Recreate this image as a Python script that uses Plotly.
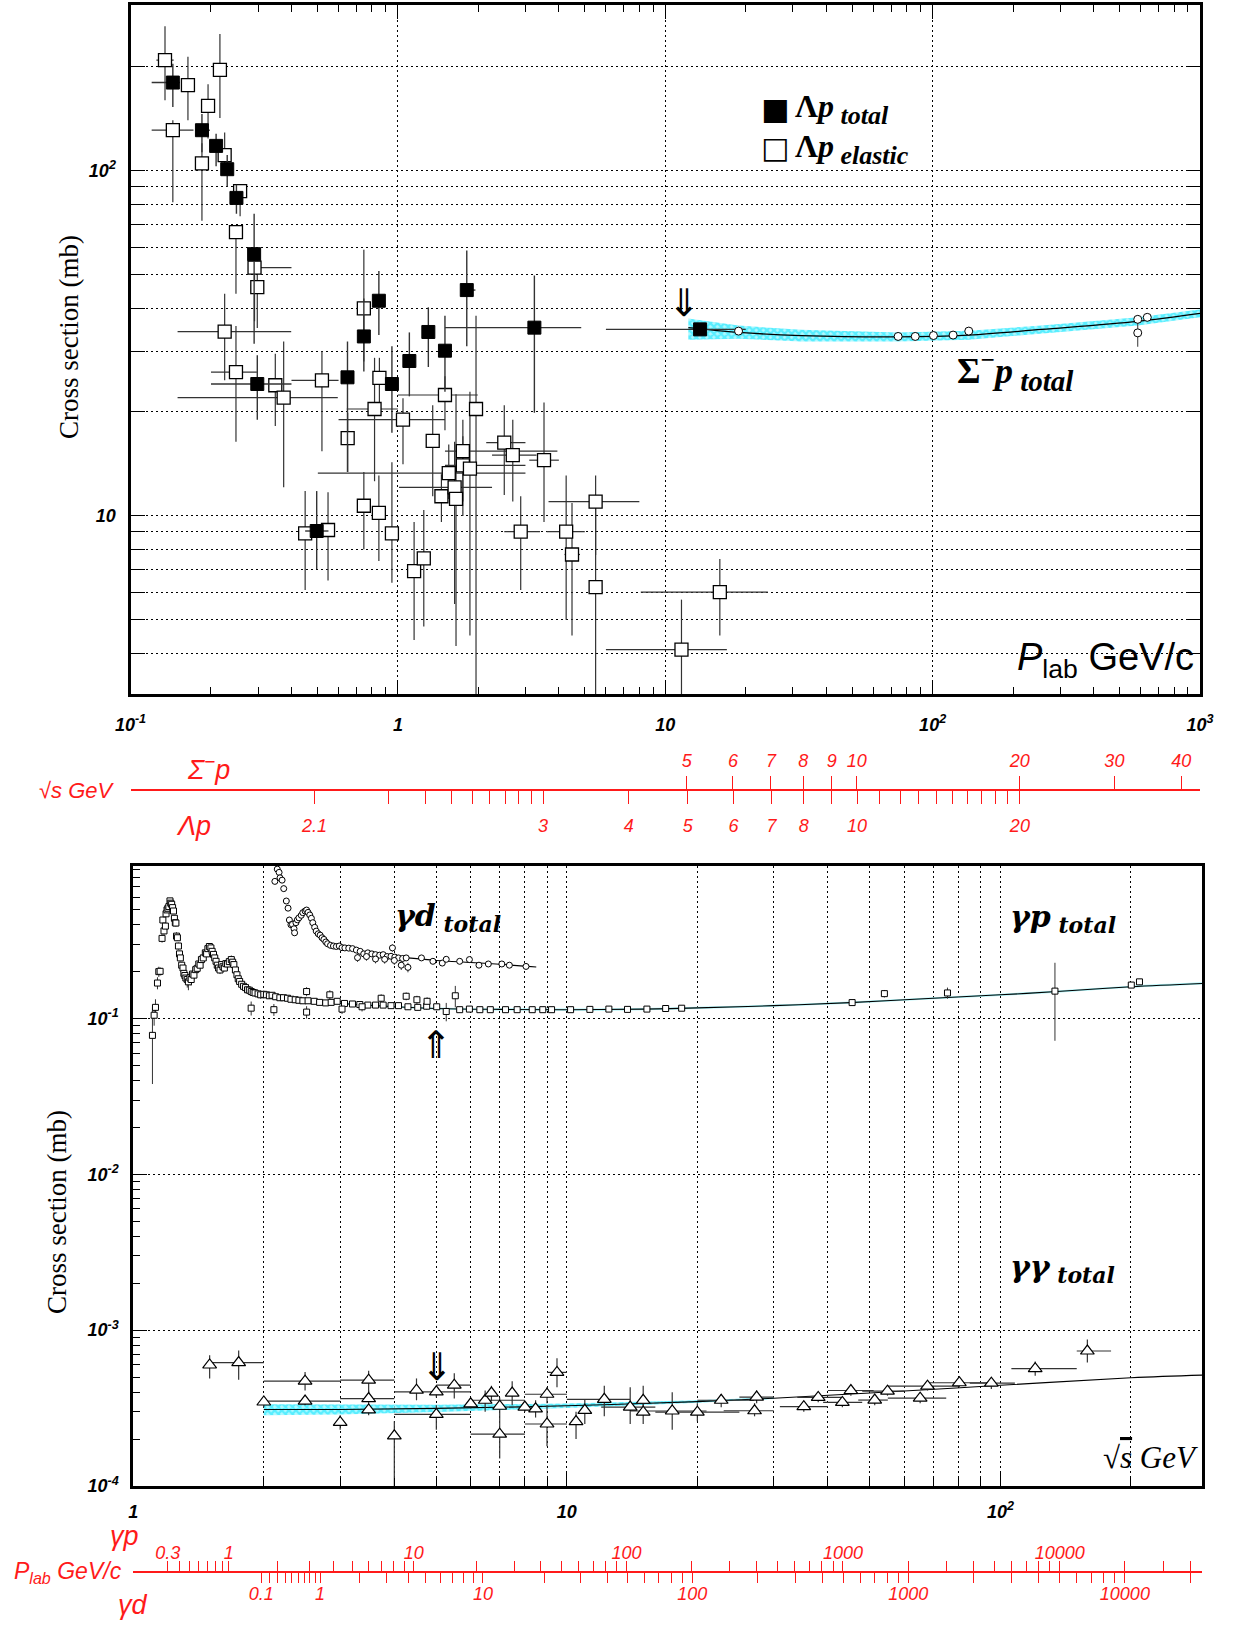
import math
import plotly.graph_objects as go

FIG_W, FIG_H = 1233, 1625

# ================= TOP PANEL: Lambda p / Sigma- p  (x: Plab GeV/c, y: mb) =================
lp_tot_p      = [0.144, 0.185, 0.209, 0.230, 0.249, 0.290, 0.298, 0.497, 0.648, 0.746, 0.849, 0.950, 1.104, 1.300, 1.500, 1.810, 3.240, 13.50]
lp_tot_p_lo   = [0.120, 0.175, 0.200, 0.222, 0.242, 0.282, 0.200, 0.450, 0.640, 0.735, 0.840, 0.940, 1.090, 1.280, 1.480, 1.720, 1.500, 6.000]
lp_tot_p_hi   = [0.153, 0.198, 0.218, 0.240, 0.256, 0.300, 0.400, 0.550, 0.660, 0.757, 0.860, 0.960, 1.120, 1.320, 1.520, 1.950, 4.850, 20.00]
lp_tot_sig    = [180, 131, 118, 101, 83.4, 57.3, 24.1, 9.04, 25.2, 33.1, 42.0, 24.1, 28.1, 34.1, 30.1, 45.1, 35.1, 34.7]
lp_tot_sig_lo = [153, 113, 103, 90, 75, 31.5, 19.0, 7.0, 13.4, 26.2, 33.4, 17.4, 22.2, 27.0, 22.9, 31.0, 19.9, 33.5]
lp_tot_sig_hi = [204, 146, 128, 111, 91, 75, 29.2, 11.8, 32.0, 42.6, 51.2, 31.0, 34.0, 40.2, 38.0, 58.7, 49.7, 36.0]

lp_el_p = [0.1346, 0.164, 0.216, 0.195, 0.144, 0.185, 0.225, 0.257, 0.248, 0.291,
           0.298, 0.225, 0.248, 0.348, 0.374, 0.450, 0.548, 0.520, 0.649, 0.746,
           0.818, 0.853, 0.746, 0.849, 0.950, 1.045, 1.150, 1.250, 1.350, 1.500,
           1.455, 1.550, 1.630, 1.650, 1.750, 1.750, 1.860, 1.960, 2.500, 2.690,
           3.520, 2.880, 4.260, 4.480, 5.490, 5.490, 16.00, 11.50]
lp_el_p_lo = [0.125, 0.158, 0.212, 0.188, 0.120, 0.180, 0.218, 0.250, 0.243, 0.283,
              0.290, 0.150, 0.200, 0.335, 0.150, 0.430, 0.520, 0.400, 0.630, 0.730,
              0.644, 0.835, 0.730, 0.830, 0.930, 0.600, 1.130, 1.230, 1.330, 1.000,
              1.430, 0.502, 1.010, 1.620, 1.500, 1.500, 1.830, 1.920, 2.140, 2.250,
              3.100, 2.500, 3.600, 4.200, 3.660, 5.350, 8.100, 6.000]
lp_el_p_hi = [0.145, 0.172, 0.220, 0.202, 0.172, 0.190, 0.232, 0.263, 0.253, 0.400,
              0.310, 0.399, 0.297, 0.362, 0.596, 0.470, 0.580, 0.600, 0.670, 0.760,
              1.000, 0.870, 0.760, 0.870, 0.970, 1.500, 1.170, 1.270, 1.370, 1.990,
              1.480, 3.000, 2.250, 1.680, 3.950, 3.000, 1.890, 2.000, 3.000, 3.300,
              4.000, 3.400, 5.000, 4.800, 8.000, 5.600, 24.20, 17.00]
lp_el_sig = [209, 177, 196, 154, 131, 105, 111, 87.2, 66.4, 52.4,
             46.0, 34.2, 26.1, 23.9, 22.0, 8.9, 9.1, 24.7, 16.8, 39.9,
             20.4, 25.1, 10.7, 10.2, 8.9, 19.0, 6.92, 7.53, 16.5, 22.4,
             11.4, 13.3, 12.1, 11.2, 15.4, 14.0, 13.7, 20.4, 16.3, 15.0,
             14.5, 9.0, 9.0, 7.73, 11.0, 6.22, 6.01, 4.1]
lp_el_sig_lo = [160, 140, 142, 124, 81, 71.6, 97, 73.8, 44, 36.6,
                35, 24.7, 16.4, 18.2, 12.1, 6.1, 6.5, 15.4, 13.4, 28,
                12.6, 19.9, 8.0, 7.4, 6.4, 14.1, 4.37, 4.78, 11.4, 17.7,
                9.6, 11.2, 5.56, 4.2, 11, 10, 4.5, 3.0, 11.5, 11.0,
                9.6, 6.1, 5.0, 4.5, 7.7, 3.0, 4.5, 3.0]
lp_el_sig_hi = [262, 214, 249, 178, 140, 120, 129, 91, 69, 59.5,
                58, 44, 35.5, 29.5, 32, 11.8, 11.7, 30, 19.9, 59,
                28.7, 28.7, 13.4, 13.1, 14.3, 21.9, 9.6, 10.4, 20.9, 25.4,
                13.2, 16.1, 16.4, 22.5, 19, 17, 22.9, 38, 20.9, 19,
                21.3, 11.4, 13.1, 10.9, 13.1, 11.4, 7.5, 5.72]

sp_p       = [18.8, 74.3, 86.1, 100.7, 119.3, 136.5, 585, 585, 635]
sp_sig     = [34.3, 33.1, 33.1, 33.3, 33.4, 34.3, 37.1, 33.9, 37.6]
sp_sig_err = [0.5, 0.4, 0.4, 0.4, 0.4, 0.4, 0.6, 3.0, 0.6]

sp_fit_p       = [12.2, 18.8, 32.2, 74.3, 136.5, 256, 585, 1000]
sp_fit_sig     = [35.1, 34.0, 33.3, 33.0, 33.4, 34.7, 36.6, 38.6]
sp_band_sig_lo = [32.4, 32.6, 32.0, 32.0, 32.4, 33.8, 35.6, 37.6]
sp_band_sig_hi = [37.3, 35.6, 34.6, 34.0, 34.4, 35.6, 37.6, 39.6]

# ================= BOTTOM PANEL: gamma p / gamma d / gamma gamma (x: sqrt(s) GeV, y: mb) =================
gp_w = [1.107, 1.117, 1.125, 1.137, 1.145, 1.153, 1.165, 1.170, 1.177, 1.186,
        1.190, 1.196, 1.202, 1.208, 1.215, 1.220, 1.226, 1.232, 1.238, 1.244,
        1.250, 1.254, 1.258, 1.264, 1.271, 1.278, 1.284, 1.293, 1.302, 1.308,
        1.315, 1.322, 1.332, 1.340, 1.351, 1.360, 1.370, 1.380, 1.393, 1.404,
        1.416, 1.426, 1.436, 1.450, 1.466, 1.476, 1.486, 1.498, 1.510, 1.520,
        1.531, 1.541, 1.552, 1.562, 1.573, 1.585, 1.599, 1.610, 1.622, 1.635,
        1.649, 1.665, 1.683, 1.695, 1.706, 1.720, 1.734, 1.746, 1.759, 1.778,
        1.796, 1.815, 1.834, 1.852, 1.871, 1.890, 1.909, 1.940, 1.967, 2.000,
        2.028, 2.060, 2.090, 2.130, 2.178, 2.220, 2.268, 2.310, 2.363, 2.410,
        2.461, 2.530, 2.614, 2.690, 2.778, 2.860, 2.953, 3.070, 3.203, 3.330,
        3.475, 3.620, 3.770, 3.930, 4.090, 4.300, 4.530, 4.750, 5.010, 5.270,
        5.530, 5.660, 5.960, 6.300, 6.660, 7.220, 7.680, 8.320, 8.800, 9.220,
        10.20, 11.30, 12.50, 13.80, 15.30, 16.90, 18.40, 45.5, 54.0, 75.5,
        133.6, 200.4, 209.3, 1.870, 2.110, 2.510, 2.510, 2.840, 3.030, 3.370,
        3.730, 4.260, 4.510, 4.760]
gp_sig = [0.078, 0.105, 0.118, 0.169, 0.200, 0.201, 0.327, 0.429, 0.365, 0.392,
          0.470, 0.498, 0.510, 0.523, 0.569, 0.550, 0.541, 0.515, 0.490, 0.440,
          0.412, 0.410, 0.338, 0.330, 0.292, 0.260, 0.245, 0.220, 0.211, 0.195,
          0.189, 0.182, 0.178, 0.172, 0.182, 0.178, 0.193, 0.190, 0.206, 0.210,
          0.224, 0.220, 0.239, 0.245, 0.264, 0.260, 0.281, 0.290, 0.284, 0.270,
          0.258, 0.245, 0.233, 0.220, 0.211, 0.205, 0.222, 0.215, 0.211, 0.225,
          0.224, 0.232, 0.239, 0.230, 0.222, 0.205, 0.191, 0.180, 0.173, 0.166,
          0.161, 0.158, 0.153, 0.152, 0.149, 0.147, 0.146, 0.144, 0.142, 0.143,
          0.142, 0.140, 0.141, 0.138, 0.136, 0.136, 0.135, 0.133, 0.132, 0.131,
          0.130, 0.130, 0.129, 0.127, 0.126, 0.127, 0.129, 0.125, 0.124, 0.123,
          0.122, 0.122, 0.122, 0.121, 0.121, 0.119, 0.118, 0.120, 0.119, 0.111,
          0.140, 0.114, 0.115, 0.114, 0.114, 0.114, 0.114, 0.114, 0.114, 0.114,
          0.114, 0.1145, 0.115, 0.1145, 0.115, 0.116, 0.1165, 0.1266, 0.1445, 0.146,
          0.150, 0.164, 0.172, 0.1166, 0.114, 0.110, 0.149, 0.142, 0.115, 0.119,
          0.135, 0.139, 0.132, 0.129]
gp_err = [0.040, 0.015, 0.015, 0.015, 0.015, 0.012, 0.020, 0.020, 0.020, 0.020,
          0.020, 0.020, 0.020, 0.020, 0.020, 0.020, 0.020, 0.020, 0.020, 0.020,
          0.020, 0.020, 0.020, 0.015, 0.015, 0.012, 0.012, 0.010, 0.010, 0.010,
          0.010, 0.012, 0.020, 0.020, 0.015, 0.015, 0.012, 0.012, 0.010, 0.010,
          0.010, 0.010, 0.010, 0.010, 0.010, 0.010, 0.010, 0.010, 0.010, 0.010,
          0.010, 0.010, 0.010, 0.012, 0.015, 0.012, 0.012, 0.015, 0.010, 0.012,
          0.012, 0.012, 0.015, 0.012, 0.012, 0.012, 0.010, 0.010, 0.010, 0.010,
          0.008, 0.008, 0.008, 0.008, 0.008, 0.008, 0.008, 0.008, 0.008, 0.008,
          0.006, 0.006, 0.006, 0.006, 0.006, 0.006, 0.006, 0.006, 0.006, 0.006,
          0.005, 0.005, 0.005, 0.005, 0.005, 0.005, 0.005, 0.005, 0.005, 0.005,
          0.005, 0.005, 0.005, 0.005, 0.005, 0.005, 0.005, 0.006, 0.006, 0.015,
          0.022, 0.003, 0.003, 0.003, 0.003, 0.003, 0.003, 0.003, 0.003, 0.003,
          0.003, 0.003, 0.003, 0.003, 0.003, 0.003, 0.003, 0.005, 0.008, 0.012,
          0.078, 0.007, 0.007, 0.012, 0.010, 0.010, 0.010, 0.010, 0.008, 0.008,
          0.008, 0.008, 0.008, 0.008]

gp_fit_w   = [2.1, 3, 4, 5, 7, 10, 15, 20, 30, 45, 70, 100, 135, 200, 292]
gp_fit_sig = [0.134, 0.125, 0.119, 0.116, 0.1145, 0.114, 0.115, 0.117, 0.121, 0.1266, 0.135, 0.142, 0.149, 0.160, 0.168]

gd_w = [2.121, 2.148, 2.169, 2.180, 2.204, 2.223, 2.254, 2.275, 2.291, 2.310,
        2.328, 2.348, 2.355, 2.372, 2.390, 2.410, 2.440, 2.460, 2.490, 2.510,
        2.530, 2.553, 2.575, 2.594, 2.620, 2.642, 2.670, 2.697, 2.725, 2.752,
        2.780, 2.806, 2.850, 2.895, 2.940, 2.985, 3.030, 3.076, 3.140, 3.204,
        3.270, 3.337, 3.400, 3.475, 3.550, 3.620, 3.700, 3.770, 3.850, 3.930,
        4.010, 4.090, 4.180, 4.260, 3.290, 3.450, 3.620, 3.800, 4.000, 4.150,
        4.300, 3.960, 4.620, 4.910, 5.160, 5.270, 5.660, 5.960, 6.270, 6.590,
        7.080, 7.370, 8.050]
gd_sig = [0.759, 0.910, 0.867, 0.800, 0.773, 0.682, 0.568, 0.511, 0.429, 0.400,
          0.402, 0.377, 0.355, 0.412, 0.430, 0.443, 0.460, 0.478, 0.490, 0.497,
          0.480, 0.462, 0.440, 0.412, 0.385, 0.364, 0.350, 0.343, 0.330, 0.322,
          0.310, 0.302, 0.295, 0.292, 0.290, 0.292, 0.285, 0.284, 0.283, 0.281,
          0.275, 0.270, 0.260, 0.264, 0.260, 0.257, 0.255, 0.257, 0.250, 0.251,
          0.248, 0.245, 0.243, 0.245, 0.246, 0.250, 0.241, 0.240, 0.236, 0.220,
          0.213, 0.284, 0.245, 0.233, 0.227, 0.240, 0.233, 0.239, 0.220, 0.224,
          0.224, 0.220, 0.216]
gd_err = [0.030, 0.040, 0.040, 0.030, 0.030, 0.030, 0.020, 0.020, 0.020, 0.015,
          0.015, 0.015, 0.015, 0.015, 0.015, 0.015, 0.015, 0.015, 0.015, 0.015,
          0.015, 0.015, 0.015, 0.015, 0.012, 0.012, 0.012, 0.012, 0.012, 0.012,
          0.010, 0.010, 0.010, 0.010, 0.010, 0.010, 0.010, 0.010, 0.010, 0.010,
          0.010, 0.010, 0.010, 0.010, 0.010, 0.010, 0.010, 0.010, 0.010, 0.010,
          0.010, 0.010, 0.010, 0.010, 0.015, 0.015, 0.015, 0.015, 0.015, 0.015,
          0.015, 0.015, 0.008, 0.008, 0.008, 0.008, 0.008, 0.008, 0.008, 0.008,
          0.008, 0.008, 0.008]
gd_fit_w   = [4.3, 5.0, 6.0, 7.0, 8.5]
gd_fit_sig = [0.245, 0.236, 0.229, 0.223, 0.214]

gg_w    = [1.50, 1.75, 2.00, 2.49, 2.49, 3.00, 3.49, 3.49, 3.49, 4.00,
           4.50, 5.00, 5.00, 5.50, 6.00, 6.48, 6.70, 7.00, 7.00, 7.48,
           8.00, 8.47, 9.00, 9.00, 9.49, 10.5, 11.0, 12.2, 14.0, 15.0,
           15.0, 17.5, 20.0, 22.7, 27.1, 27.4, 35.2, 38.0, 43.2, 45.2,
           51.3, 54.9, 65.3, 67.9, 80.4, 95.3, 120.3, 158.7]
gg_w_lo = [1.50, 1.50, 2.00, 2.00, 2.00, 3.00, 3.00, 3.00, 3.49, 4.00,
           4.50, 4.00, 4.00, 5.00, 6.00, 6.00, 6.70, 6.00, 7.00, 7.48,
           8.00, 8.47, 8.00, 8.00, 9.00, 10.5, 11.0, 10.0, 12.0, 15.0,
           15.0, 14.0, 16.0, 20.0, 23.0, 25.0, 31.0, 34.0, 39.0, 40.0,
           47.0, 48.0, 55.0, 55.0, 67.0, 85.0, 106.0, 150.0]
gg_w_hi = [1.50, 2.00, 2.00, 3.00, 3.00, 3.00, 4.00, 4.00, 3.49, 4.00,
           4.50, 6.00, 6.00, 6.00, 6.00, 8.00, 6.70, 8.00, 7.00, 7.48,
           8.00, 8.47, 10.0, 10.0, 10.0, 10.5, 11.0, 14.0, 16.0, 15.0,
           15.0, 21.0, 25.0, 27.0, 30.0, 30.0, 40.0, 43.0, 48.0, 51.0,
           55.0, 60.0, 75.0, 80.0, 95.0, 108.0, 150.0, 180.0]
gg_sig    = [5.98e-4, 6.2e-4, 3.46e-4, 4.71e-4, 3.51e-4, 2.56e-4, 4.78e-4, 3.64e-4, 3.08e-4, 2.1e-4,
             4.12e-4, 4.02e-4, 2.88e-4, 4.44e-4, 3.37e-4, 3.55e-4, 3.95e-4, 2.15e-4, 3.25e-4, 3.95e-4,
             3.21e-4, 3.13e-4, 3.88e-4, 2.5e-4, 5.36e-4, 2.59e-4, 3.06e-4, 3.6e-4, 3.21e-4, 3.55e-4,
             2.98e-4, 3.03e-4, 2.98e-4, 3.55e-4, 3.04e-4, 3.72e-4, 3.23e-4, 3.7e-4, 3.44e-4, 4.1e-4,
             3.56e-4, 4.06e-4, 3.66e-4, 4.37e-4, 4.6e-4, 4.57e-4, 5.66e-4, 7.35e-4]
gg_sig_lo = [4.9e-4, 4.8e-4, 3.2e-4, 4.1e-4, 3.3e-4, 2.3e-4, 3.9e-4, 3.2e-4, 2.85e-4, 1.0e-4,
             3.55e-4, 3.7e-4, 2.3e-4, 3.65e-4, 3.15e-4, 3.0e-4, 3.5e-4, 1.5e-4, 2.9e-4, 3.3e-4,
             3.0e-4, 2.75e-4, 3.4e-4, 1.8e-4, 4.3e-4, 2.0e-4, 2.5e-4, 2.8e-4, 2.5e-4, 2.9e-4,
             2.5e-4, 2.3e-4, 2.6e-4, 3.2e-4, 2.8e-4, 3.4e-4, 3.0e-4, 3.45e-4, 3.2e-4, 3.8e-4,
             3.3e-4, 3.8e-4, 3.4e-4, 4.1e-4, 4.3e-4, 4.2e-4, 5.1e-4, 6.2e-4]
gg_sig_hi = [6.9e-4, 7.4e-4, 3.7e-4, 5.4e-4, 3.8e-4, 2.85e-4, 5.5e-4, 4.1e-4, 3.35e-4, 2.6e-4,
             4.9e-4, 4.4e-4, 3.3e-4, 5.3e-4, 3.6e-4, 4.1e-4, 4.4e-4, 2.9e-4, 3.7e-4, 4.7e-4,
             3.45e-4, 3.55e-4, 4.3e-4, 3.3e-4, 6.6e-4, 3.0e-4, 3.6e-4, 4.4e-4, 4.3e-4, 4.4e-4,
             3.5e-4, 4.0e-4, 3.4e-4, 3.9e-4, 3.4e-4, 4.1e-4, 3.5e-4, 3.95e-4, 3.7e-4, 4.4e-4,
             3.8e-4, 4.3e-4, 3.9e-4, 4.7e-4, 4.9e-4, 4.9e-4, 6.3e-4, 8.7e-4]

gg_fit_w   = [2, 3, 5, 10, 20, 30, 50, 100, 200, 292]
gg_fit_sig = [3.1e-4, 3.1e-4, 3.15e-4, 3.27e-4, 3.48e-4, 3.66e-4, 3.95e-4, 4.43e-4, 4.95e-4, 5.15e-4]
gg_band_w      = [2, 3, 5, 10, 20, 30]
gg_band_sig_lo = [2.85e-4, 2.88e-4, 2.98e-4, 3.17e-4, 3.42e-4, 3.62e-4]
gg_band_sig_hi = [3.35e-4, 3.33e-4, 3.32e-4, 3.38e-4, 3.55e-4, 3.70e-4]

# ================= secondary (red) energy scales =================
M_P, M_SIGMA, M_LAMBDA, M_D = 0.938272, 1.197449, 1.115683, 1.875613
sigp_sqrts_ticks  = [5, 6, 7, 8, 9, 10, 20, 30, 40]
sigp_sqrts_labels = ['5', '6', '7', '8', '9', '10', '20', '30', '40']
lamp_sqrts_ticks  = [2.1, 2.2, 2.3, 2.4, 2.5, 2.6, 2.7, 2.8, 2.9, 3, 4, 5, 6, 7, 8, 9, 10,
                     11, 12, 13, 14, 15, 16, 17, 18, 19, 20]
lamp_sqrts_labels = ['2.1', '', '', '', '', '', '', '', '', '3', '4', '5', '6', '7', '8', '', '10',
                     '', '', '', '', '', '', '', '', '', '20']
gp_plab_ticks = [0.3, 0.4, 0.5, 0.6, 0.7, 0.8, 0.9,
                 1, 2, 3, 4, 5, 6, 7, 8, 9,
                 10, 20, 30, 40, 50, 60, 70, 80, 90,
                 100, 200, 300, 400, 500, 600, 700, 800, 900,
                 1000, 2000, 3000, 4000, 5000, 6000, 7000, 8000, 9000,
                 10000, 20000, 30000, 40000]
gp_plab_labeled = [0.3, 1, 10, 100, 1000, 10000]
gd_plab_ticks = [0.1, 0.2, 0.3, 0.4, 0.5, 0.6, 0.7, 0.8, 0.9,
                 1, 2, 3, 4, 5, 6, 7, 8, 9,
                 10, 20, 30, 40, 50, 60, 70, 80, 90,
                 100, 200, 300, 400, 500, 600, 700, 800, 900,
                 1000, 2000, 3000, 4000, 5000, 6000, 7000, 8000, 9000,
                 10000, 20000]
gd_plab_labeled = [0.1, 1, 10, 100, 1000, 10000]


def plab_from_sqrts(w, mb, mt):
    e = (w * w - mb * mb - mt * mt) / (2 * mt)
    return math.sqrt(e * e - mb * mb)


def sqrts_photon(p, mt):
    return math.sqrt(mt * mt + 2 * mt * p)


def fmt(v):
    return ('%g' % v)


# ---------------- geometry helpers (window pixel -> paper coords) ----------------
def PX(x):
    return x / FIG_W


def PY(y):
    return 1 - y / FIG_H


TOP_X = [PX(130.5), PX(1200)]
TOP_Y = [PY(694), PY(5)]
BOT_X = [PX(133.3), PX(1202)]
BOT_Y = [PY(1486), PY(866)]

fig = go.Figure()
ERRC = '#333333'
CYAN_PATTERN = dict(shape='x', fgcolor='#00e4ff', bgcolor='rgba(150,245,255,0.75)', size=5, solidity=0.7)


def errs(v, lo, hi):
    return [h - a for a, h in zip(v, hi)], [a - l for a, l in zip(v, lo)]


# ---- top panel traces ----
fig.add_trace(go.Scatter(x=sp_fit_p, y=sp_band_sig_lo, mode='lines', line=dict(width=0, color='cyan'),
                         showlegend=False, hoverinfo='skip', xaxis='x', yaxis='y'))
fig.add_trace(go.Scatter(x=sp_fit_p, y=sp_band_sig_hi, mode='lines', line=dict(width=0, color='cyan'),
                         fill='tonexty', fillpattern=CYAN_PATTERN,
                         showlegend=False, hoverinfo='skip', xaxis='x', yaxis='y'))
fig.add_trace(go.Scatter(x=sp_fit_p, y=sp_fit_sig, mode='lines', line=dict(color='black', width=1.3, shape='spline'),
                         showlegend=False, xaxis='x', yaxis='y'))

ep, em = errs(lp_el_sig, lp_el_sig_lo, lp_el_sig_hi)
xp, xm = errs(lp_el_p, lp_el_p_lo, lp_el_p_hi)
fig.add_trace(go.Scatter(x=lp_el_p, y=lp_el_sig, mode='markers', showlegend=False,
                         marker=dict(symbol='square', size=13, color='white', line=dict(color='black', width=1.3)),
                         error_y=dict(type='data', symmetric=False, array=ep, arrayminus=em, width=0, thickness=1.2, color=ERRC),
                         error_x=dict(type='data', symmetric=False, array=xp, arrayminus=xm, width=0, thickness=1.2, color=ERRC),
                         xaxis='x', yaxis='y'))
ep, em = errs(lp_tot_sig, lp_tot_sig_lo, lp_tot_sig_hi)
xp, xm = errs(lp_tot_p, lp_tot_p_lo, lp_tot_p_hi)
fig.add_trace(go.Scatter(x=lp_tot_p, y=lp_tot_sig, mode='markers', showlegend=False,
                         marker=dict(symbol='square', size=13, color='black', line=dict(color='black', width=1)),
                         error_y=dict(type='data', symmetric=False, array=ep, arrayminus=em, width=0, thickness=1.4, color=ERRC),
                         error_x=dict(type='data', symmetric=False, array=xp, arrayminus=xm, width=0, thickness=1.4, color=ERRC),
                         xaxis='x', yaxis='y'))
fig.add_trace(go.Scatter(x=sp_p, y=sp_sig, mode='markers', showlegend=False,
                         marker=dict(symbol='circle', size=8, color='white', line=dict(color='black', width=1)),
                         error_y=dict(type='data', array=sp_sig_err, width=0, thickness=1, color=ERRC),
                         xaxis='x', yaxis='y'))

# ---- bottom panel traces ----
fig.add_trace(go.Scatter(x=gg_band_w, y=gg_band_sig_lo, mode='lines', line=dict(width=0, color='cyan'),
                         showlegend=False, hoverinfo='skip', xaxis='x2', yaxis='y2'))
fig.add_trace(go.Scatter(x=gg_band_w, y=gg_band_sig_hi, mode='lines', line=dict(width=0, color='cyan'),
                         fill='tonexty', fillpattern=CYAN_PATTERN,
                         showlegend=False, hoverinfo='skip', xaxis='x2', yaxis='y2'))
fig.add_trace(go.Scatter(x=gp_fit_w, y=gp_fit_sig, mode='lines', line=dict(color='#a8f4f8', width=2.2, shape='spline'),
                         showlegend=False, hoverinfo='skip', xaxis='x2', yaxis='y2'))
fig.add_trace(go.Scatter(x=gp_fit_w, y=gp_fit_sig, mode='lines', line=dict(color='black', width=1.1, shape='spline'),
                         showlegend=False, xaxis='x2', yaxis='y2'))
fig.add_trace(go.Scatter(x=gg_fit_w, y=gg_fit_sig, mode='lines', line=dict(color='black', width=1.1, shape='spline'),
                         showlegend=False, xaxis='x2', yaxis='y2'))
fig.add_trace(go.Scatter(x=gd_fit_w, y=gd_fit_sig, mode='lines', line=dict(color='black', width=1.1, shape='spline'),
                         showlegend=False, xaxis='x2', yaxis='y2'))
fig.add_trace(go.Scatter(x=gp_w, y=gp_sig, mode='markers', showlegend=False,
                         marker=dict(symbol='square', size=6, color='white', line=dict(color='black', width=1)),
                         error_y=dict(type='data', array=gp_err, width=0, thickness=1, color=ERRC),
                         xaxis='x2', yaxis='y2'))
fig.add_trace(go.Scatter(x=gd_w, y=gd_sig, mode='markers', showlegend=False,
                         marker=dict(symbol='circle', size=6, color='white', line=dict(color='black', width=1)),
                         error_y=dict(type='data', array=gd_err, width=0, thickness=1, color=ERRC),
                         xaxis='x2', yaxis='y2'))
ep, em = errs(gg_sig, gg_sig_lo, gg_sig_hi)
xp, xm = errs(gg_w, gg_w_lo, gg_w_hi)
fig.add_trace(go.Scatter(x=gg_w, y=gg_sig, mode='markers', showlegend=False,
                         marker=dict(symbol='triangle-up', size=12, color='white', line=dict(color='black', width=1.2)),
                         error_y=dict(type='data', symmetric=False, array=ep, arrayminus=em, width=0, thickness=1.2, color=ERRC),
                         error_x=dict(type='data', symmetric=False, array=xp, arrayminus=xm, width=0, thickness=1.2, color=ERRC),
                         xaxis='x2', yaxis='y2'))

# invisible anchor traces for the red energy scales
for xa, ya, xv, yv in [('x3', 'y', 1, 10), ('x4', 'y', 1, 10), ('x5', 'y2', 10, 0.01), ('x6', 'y2', 10, 0.01)]:
    fig.add_trace(go.Scatter(x=[xv], y=[yv], mode='markers', marker=dict(opacity=0), showlegend=False,
                             hoverinfo='skip', xaxis=xa, yaxis=ya))

# ---------------- axes ----------------
TICKFONT = dict(family='Liberation Sans', size=18, color='black', weight='bold', style='italic')
GRID = dict(showgrid=True, gridcolor='black', gridwidth=1, griddash='2px,3px')


def box(mirror):
    return dict(showline=True, linecolor='black', linewidth=3, mirror=mirror, zeroline=False,
                ticks='inside', tickcolor='black', tickwidth=1, automargin=False)


def decade_minor(decs):
    return [d * k for d in decs for k in range(2, 10)]


fig.update_layout(
    xaxis=dict(type='log', range=[-1, 3], domain=TOP_X, anchor='y', ticklen=14,
               tickvals=[0.1, 1, 10, 100, 1000],
               ticktext=['10<sup>-1</sup>', '1', '10', '10<sup>2</sup>', '10<sup>3</sup>'],
               tickfont=TICKFONT, ticklabelstandoff=12, **GRID, **box('allticks'),
               minor=dict(tickvals=decade_minor([0.1, 1, 10, 100]), ticks='inside', ticklen=7,
                          tickcolor='black', showgrid=False)),
    yaxis=dict(type='log', range=[0.484, 2.48], domain=TOP_Y, anchor='x', ticklen=14,
               tickvals=[10, 100], ticktext=['10', '10<sup>2</sup>'],
               tickfont=TICKFONT, ticklabelstandoff=8, **GRID, **box('allticks'),
               minor=dict(tickvals=decade_minor([1, 10, 100]), ticks='inside', ticklen=7, tickcolor='black',
                          showgrid=True, gridcolor='black', gridwidth=1, griddash='2px,3px')),
    xaxis2=dict(type='log', range=[0, 2.465], domain=BOT_X, anchor='y2', ticklen=14,
                tickvals=[1, 10, 100], ticktext=['1', '10', '10<sup>2</sup>'],
                tickfont=TICKFONT, ticklabelstandoff=7, **GRID, **box(True),
                minor=dict(tickvals=decade_minor([1, 10, 100]), ticks='inside', ticklen=8, tickcolor='black',
                           showgrid=True, gridcolor='black', gridwidth=1, griddash='2px,3px')),
    yaxis2=dict(type='log', range=[-4, -0.021], domain=BOT_Y, anchor='x2', ticklen=14,
                tickvals=[1e-4, 1e-3, 1e-2, 1e-1],
                ticktext=['10<sup>-4</sup>', '10<sup>-3</sup>', '10<sup>-2</sup>', '10<sup>-1</sup>'],
                tickfont=TICKFONT, ticklabelstandoff=8, **GRID, **box(True),
                minor=dict(tickvals=decade_minor([1e-4, 1e-3, 1e-2, 1e-1]), ticks='inside', ticklen=7,
                           tickcolor='black', showgrid=False)),
)

RED = '#ff1a1a'
REDFONT = dict(family='Liberation Sans', size=18, color=RED, style='italic')
RED_TOP_POS = PY(790)
RED_BOT_POS = PY(1572)


def red_axis(overlay, side, pos, vals, texts, rng, ticklen, standoff):
    return dict(type='log', range=rng, overlaying=overlay, anchor='free', position=pos, side=side,
                showline=True, linecolor=RED, linewidth=2, ticks='outside', ticklen=ticklen,
                tickcolor=RED, tickwidth=1, tickvals=vals, ticktext=texts, tickfont=REDFONT,
                ticklabelstandoff=standoff, showgrid=False, zeroline=False, automargin=False)


fig.update_layout(
    xaxis3=red_axis('x', 'top', RED_TOP_POS,
                    [plab_from_sqrts(w, M_SIGMA, M_P) for w in sigp_sqrts_ticks], sigp_sqrts_labels,
                    [-1, 3], 13, 2),
    xaxis4=red_axis('x', 'bottom', RED_TOP_POS,
                    [plab_from_sqrts(w, M_LAMBDA, M_P) for w in lamp_sqrts_ticks], lamp_sqrts_labels,
                    [-1, 3], 13, 6),
    xaxis5=red_axis('x2', 'top', RED_BOT_POS,
                    [sqrts_photon(p, M_P) for p in gp_plab_ticks],
                    [fmt(p) if p in gp_plab_labeled else '' for p in gp_plab_ticks],
                    [0, 2.465], 10, -5),
    xaxis6=red_axis('x2', 'bottom', RED_BOT_POS,
                    [sqrts_photon(p, M_D) for p in gd_plab_ticks],
                    [fmt(p) if p in gd_plab_labeled else '' for p in gd_plab_ticks],
                    [0, 2.465], 10, -5),
)

# ---------------- annotations ----------------
ann = []


def text(xp, yp, t, size, family='Liberation Serif', color='black', xanchor='center', angle=0, **kw):
    ann.append(dict(x=PX(xp), y=PY(yp), xref='paper', yref='paper', text=t, showarrow=False,
                    xanchor=xanchor, yanchor='middle', textangle=angle,
                    font=dict(family=family, size=size, color=color, **kw)))


def sub(t, px_size):
    return "<sub><span style='font-size:%dpx'><b><i> %s</i></b></span></sub>" % (px_size, t)


# legend (drawn as text glyphs)
text(775, 108, '■', 30, family='DejaVu Sans')
text(775, 148, '□', 30, family='DejaVu Sans')
text(793, 109, '<b>Λ<i>p</i></b>' + sub('total', 26), 32, xanchor='left')
text(793, 149, '<b>Λ<i>p</i></b>' + sub('elastic', 26), 32, xanchor='left')

text(69, 337, 'Cross section (mb)', 27, angle=-90)
text(57, 1212, 'Cross section (mb)', 27, angle=-90)
text(1196, 660, '<i>P</i><sub>lab</sub> GeV/c', 38, family='Liberation Sans', xanchor='right')
text(955, 372, '<b>Σ<sup>−</sup><i>p</i></b>' + sub('total', 29), 36, xanchor='left')
text(77, 790, '√<i>s GeV</i>', 22, family='Liberation Sans', color=RED)
text(208, 768, '<i>Σ<sup>−</sup>p</i>', 27, family='Liberation Sans', color=RED)
text(193, 826, '<i>Λp</i>', 27, family='Liberation Sans', color=RED)
text(124, 1536, '<i>γp</i>', 27, family='Liberation Sans', color=RED)
text(68, 1572, '<i>P<sub>lab</sub> GeV/c</i>', 23, family='Liberation Sans', color=RED)
text(133, 1605, '<i>γd</i>', 27, family='Liberation Sans', color=RED)
text(393, 917, '<b><i>γd</i></b>' + sub('total', 22), 30, family='DejaVu Serif', xanchor='left')
text(1008, 918, '<b><i>γp</i></b>' + sub('total', 22), 30, family='DejaVu Serif', xanchor='left')
text(1008, 1268, '<b><i>γγ</i></b>' + sub('total', 22), 30, family='DejaVu Serif', xanchor='left')
text(1200, 1457, '√<span style="text-decoration:overline"><i>s</i></span> <i>GeV</i>', 31, xanchor='right')

# double arrows marking where the fits start (positioned in data coordinates)
ann.append(dict(x=math.log10(11.8), y=math.log10(41.5), xref='x', yref='y', text='⇓', showarrow=False,
                font=dict(family='DejaVu Sans', size=38, color='black')))
ann.append(dict(x=math.log10(4.99), y=math.log10(0.068), xref='x2', yref='y2', text='⇑', showarrow=False,
                font=dict(family='DejaVu Sans', size=38, color='black')))
ann.append(dict(x=math.log10(5.02), y=math.log10(5.8e-4), xref='x2', yref='y2', text='⇓', showarrow=False,
                font=dict(family='DejaVu Sans', size=38, color='black')))

fig.update_layout(
    width=FIG_W, height=FIG_H, margin=dict(l=0, r=0, t=0, b=0),
    paper_bgcolor='white', plot_bgcolor='white',
    annotations=ann, showlegend=False, hovermode=False,
)

# remove the browser's default 8px body margin so the figure sits at the window origin
fig.write_html('out.html', config={'displayModeBar': False},
               post_script="document.body.style.margin='0px';")
